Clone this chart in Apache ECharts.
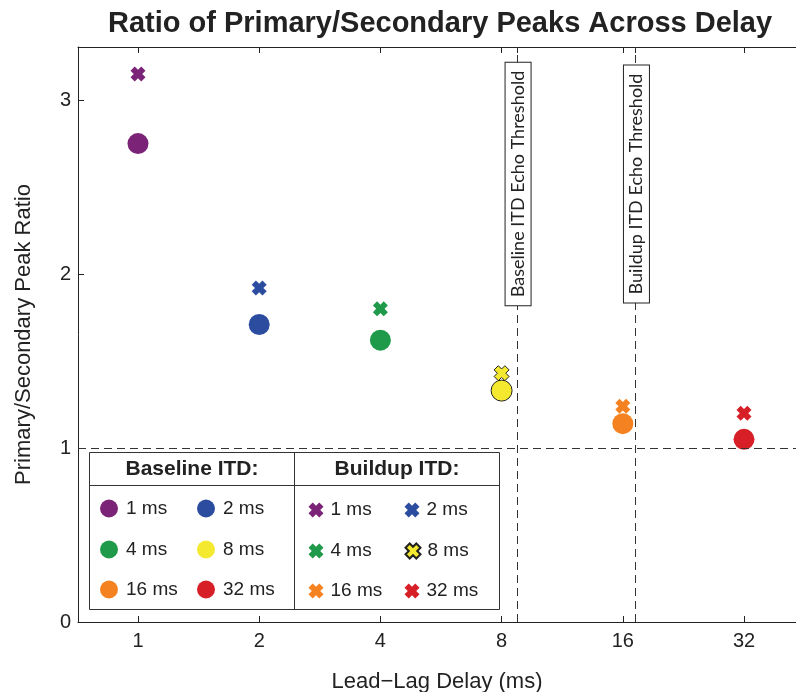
<!DOCTYPE html>
<html>
<head>
<meta charset="utf-8">
<script src="https://cdn.jsdelivr.net/npm/echarts@6/dist/echarts.min.js"></script>
<style>
  html, body { margin: 0; padding: 0; background: #fff; }
  #chart { width: 796px; height: 692px; }
</style>
</head>
<body>
<div id="chart"></div>
<script>
// lead-lag delays (ms), one point per ITD condition
var delays = [1, 2, 4, 8, 16, 32];
var itdNames = ['1 ms', '2 ms', '4 ms', '8 ms', '16 ms', '32 ms'];
var baselineRatio = [2.75, 1.71, 1.62, 1.33, 1.14, 1.05];
var buildupRatio = [3.15, 1.92, 1.80, 1.43, 1.24, 1.20];
var itdColors = ['#7b2376', '#2c4d9f', '#1f9a4a', '#f4e92e', '#f58220', '#d71f28'];
var thresholdDelays = [8.74, 17.2];
var thresholdNames = ['Baseline ITD Echo Threshold', 'Buildup ITD Echo Threshold'];
var yTicks = [0, 1, 2, 3];
var refRatio = 1;

var FONT = '"Liberation Sans", Arial, Helvetica, sans-serif';
var crossPath = 'path://M0,2.8L2.8,0L5,2.2L7.2,0L10,2.8L7.8,5L10,7.2L7.2,10L5,7.8L2.8,10L0,7.2L2.2,5Z';

var log2 = function(v){ return Math.log(v) / Math.LN2; };
var xTickVals = delays.map(log2);
var allTicks = xTickVals.concat(thresholdDelays.map(log2));

var series = [];
var legends = [];
// legend layout (pixels)
var legendCols = { base: [109, 206], build: [316, 412] };
var legendRows = [508, 549, 589];

delays.forEach(function(d, i){
	var isYellow = i === 3;
	var baseName = 'Baseline ' + itdNames[i];
	var buildName = 'Buildup ' + itdNames[i];
	series.push({
		name: baseName,
		type: 'scatter',
		symbol: 'circle',
		symbolSize: 21,
		itemStyle: {
			color: itdColors[i],
			borderColor: isYellow ? '#222' : itdColors[i],
			borderWidth: isYellow ? 1 : 0,
			opacity: 1
		},
		data: [[log2(d), baselineRatio[i]]]
	});
	series.push({
		name: buildName,
		type: 'scatter',
		symbol: crossPath,
		symbolSize: 15,
		itemStyle: {
			color: itdColors[i],
			borderColor: isYellow ? '#222' : itdColors[i],
			borderWidth: isYellow ? 1 : 0,
			opacity: 1
		},
		data: [[log2(d), buildupRatio[i]]]
	});
	var col = i % 2, row = Math.floor(i / 2);
	legends.push({
		data: [{ name: baseName, itemStyle: { borderWidth: 0 } }], selectedMode: false, padding: 0,
		left: legendCols.base[col] - 9, top: legendRows[row] - 9,
		itemWidth: 18, itemHeight: 18, icon: 'circle',
		formatter: function(){ return itdNames[i]; },
		textStyle: { fontFamily: FONT, fontSize: 19, color: '#222', padding: [0, 0, 0, 3] }
	});
	legends.push({
		data: [buildName], selectedMode: false, padding: 0,
		left: legendCols.build[col] - 7.5, top: legendRows[row] - 7.5,
		itemWidth: 15, itemHeight: 15, icon: crossPath,
		formatter: function(){ return itdNames[i]; },
		textStyle: { fontFamily: FONT, fontSize: 19, color: '#222', padding: [0, 0, 0, 2] }
	});
});

// dashed reference lines
series[0].markLine = {
	silent: true,
	symbol: 'none',
	label: { show: false },
	lineStyle: { color: '#333', type: [8, 5], width: 1 },
	data: [{ yAxis: refRatio }].concat(thresholdDelays.map(function(t){ return { xAxis: log2(t) }; }))
};

var chart = echarts.init(document.getElementById('chart'));

var option = {
	animation: false,
	title: {
		text: 'Ratio of Primary/Secondary Peaks Across Delay',
		left: 103, top: 4,
		textStyle: { fontFamily: FONT, fontSize: 29, fontWeight: 'bold', color: '#222' }
	},
	grid: { left: 78, top: 47, right: 0, bottom: 70, containLabel: false, outerBoundsMode: 'none' },
	xAxis: [{
		type: 'value', min: -0.495, max: 5.429,
		name: 'Lead\u2212Lag Delay (ms)', nameLocation: 'middle', nameGap: 49,
		nameTextStyle: { fontFamily: FONT, fontSize: 22, color: '#222' },
		axisLine: { onZero: false, lineStyle: { color: '#222', width: 1 } },
		axisTick: { inside: true, length: 6, customValues: allTicks, lineStyle: { color: '#222' } },
		axisLabel: {
			customValues: xTickVals, margin: 9,
			fontFamily: FONT, fontSize: 20, color: '#222',
			formatter: function(v){ return String(Math.round(Math.pow(2, v))); }
		},
		splitLine: { show: false }
	}, {
		type: 'value', position: 'top', min: -0.495, max: 5.429,
		axisLine: { show: true, onZero: false, lineStyle: { color: '#222', width: 1 } },
		axisTick: { inside: true, length: 6, customValues: allTicks, lineStyle: { color: '#222' } },
		axisLabel: { show: false },
		splitLine: { show: false }
	}],
	yAxis: {
		type: 'value', min: 0, max: 3.305,
		name: 'Primary/Secondary Peak Ratio', nameLocation: 'middle', nameGap: 43,
		nameTextStyle: { fontFamily: FONT, fontSize: 22, color: '#222' },
		axisLine: { show: true, onZero: false, lineStyle: { color: '#222', width: 1 } },
		axisTick: { show: true, inside: true, length: 6, customValues: yTicks, lineStyle: { color: '#222' } },
		axisLabel: { customValues: yTicks, margin: 7, fontFamily: FONT, fontSize: 20, color: '#222' },
		splitLine: { show: false }
	},
	legend: legends,
	series: series
};
chart.setOption(option);

// legend frame and threshold labels
var gfx = [
	{ type: 'rect', z: 3, shape: { x: 89.5, y: 452.5, width: 410, height: 157 }, style: { fill: '#fff', stroke: '#333', lineWidth: 1 } },
	{ type: 'line', z: 3, shape: { x1: 294.5, y1: 452.5, x2: 294.5, y2: 609.5 }, style: { stroke: '#333', lineWidth: 1 } },
	{ type: 'line', z: 3, shape: { x1: 89.5, y1: 485.5, x2: 499.5, y2: 485.5 }, style: { stroke: '#333', lineWidth: 1 } },
	{ type: 'text', z: 5, x: 192, y: 469, style: { text: 'Baseline ITD:', fill: '#222', font: 'bold 21px ' + FONT, align: 'center', verticalAlign: 'middle' } },
	{ type: 'text', z: 5, x: 397, y: 469, style: { text: 'Buildup ITD:', fill: '#222', font: 'bold 21px ' + FONT, align: 'center', verticalAlign: 'middle' } }
];
thresholdDelays.forEach(function(t, k){
	var px = chart.convertToPixel({ xAxisIndex: 0 }, log2(t));
	gfx.push({
		type: 'text', z: 10, x: px + 1, y: 184, rotation: Math.PI / 2,
		style: {
			text: thresholdNames[k], fill: '#222', font: '18px Lato, "Open Sans", sans-serif',
			align: 'center', verticalAlign: 'middle',
			backgroundColor: '#fff', borderColor: '#222', borderWidth: 1,
			padding: [4, 8, 3, 8]
		}
	});
});
chart.setOption({ graphic: gfx });
</script>
</body>
</html>
